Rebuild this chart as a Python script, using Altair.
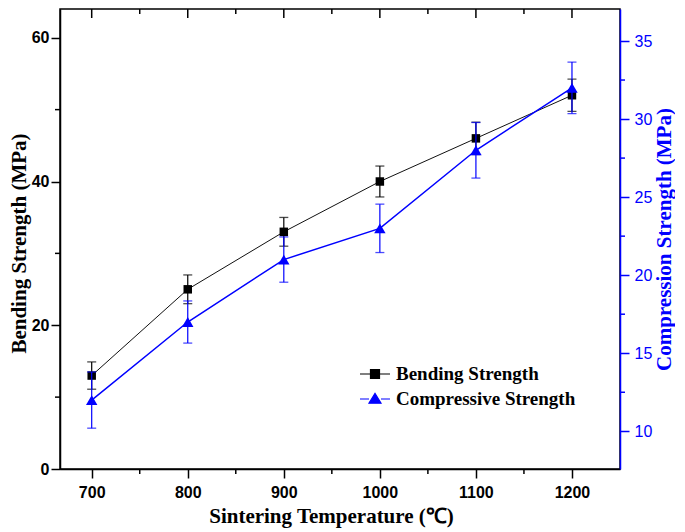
import altair as alt
import pandas as pd

# ---- data ----
temps = [700, 800, 900, 1000, 1100, 1200]
bending = [13.0, 25.0, 33.0, 40.0, 46.0, 52.0]
bending_err = [1.9, 2.0, 2.0, 2.15, 2.25, 2.25]
compressive = [12.0, 17.0, 21.0, 23.0, 28.0, 32.0]
compressive_err = [1.8, 1.35, 1.45, 1.55, 1.78, 1.65]

series_names = ["Bending Strength", "Compressive Strength"]
series_colors = ["#000000", "#0000ff"]

x_major = [700, 800, 900, 1000, 1100, 1200]
x_minor = [750, 850, 950, 1050, 1150]
left_major = [0, 20, 40, 60]
left_minor = [10, 30, 50]
right_major = [10, 15, 20, 25, 30, 35]
right_minor = [12.5, 17.5, 22.5, 27.5, 32.5]

W, H = 560, 460
x_domain = [667, 1250]
left_domain = [0, 64]
right_domain = [7.585, 37.05]

BLUE = "#0000ff"
SERIF = "Liberation Serif"
SANS = "Liberation Sans"

bend_df = pd.DataFrame({
    "temp": temps, "val": bending,
    "lo": [v - e for v, e in zip(bending, bending_err)],
    "hi": [v + e for v, e in zip(bending, bending_err)],
})
comp_df = pd.DataFrame({
    "temp": temps, "val": compressive,
    "lo": [v - e for v, e in zip(compressive, compressive_err)],
    "hi": [v + e for v, e in zip(compressive, compressive_err)],
})
xmaj_df = pd.DataFrame({"temp": x_major})
xmin_df = pd.DataFrame({"temp": x_minor})
lmin_df = pd.DataFrame({"val": left_minor})
rmin_df = pd.DataFrame({"val": right_minor})
leg_df = pd.DataFrame({"series": series_names})

x_scale = alt.Scale(domain=x_domain, nice=False, zero=False)
left_scale = alt.Scale(domain=left_domain, nice=False, zero=False)
right_scale = alt.Scale(domain=right_domain, nice=False, zero=False)

x_axis = alt.Axis(
    values=x_major, format="d", title="Sintering Temperature (℃)",
    titleFont=SERIF, titleFontWeight="bold", titleFontSize=21, titleColor="black",
    labelFont=SANS, labelFontWeight="bold", labelFontSize=16, labelColor="black",
    tickSize=9, tickWidth=1.5, tickColor="black", domainWidth=1.5, domainColor="black",
    labelPadding=6, titlePadding=5, grid=False, titleX=271,
)
left_axis = alt.Axis(
    values=left_major, title="Bending Strength (MPa)",
    titleFont=SERIF, titleFontWeight="bold", titleFontSize=21, titleColor="black",
    labelFont=SANS, labelFontWeight="bold", labelFontSize=16, labelColor="black",
    tickSize=9, tickWidth=1.5, tickColor="black", domainWidth=1.5, domainColor="black",
    labelPadding=2, titlePadding=2, grid=False, titleY=234,
)
right_axis = alt.Axis(
    orient="right", values=right_major, title="Compression Strength (MPa)",
    titleFont=SERIF, titleFontWeight="bold", titleFontSize=21, titleColor=BLUE,
    titleAngle=270, titleBaseline="top",
    labelFont=SANS, labelFontWeight="normal", labelFontSize=16, labelColor=BLUE,
    tickSize=9, tickWidth=1.5, tickColor=BLUE, domainWidth=1.5, domainColor=BLUE,
    labelPadding=5, titlePadding=2, grid=False, titleY=230,
)

X = alt.X("temp:Q", scale=x_scale, axis=x_axis)
YL = lambda f: alt.Y(f"{f}:Q", scale=left_scale, axis=left_axis)
YR = lambda f: alt.Y(f"{f}:Q", scale=right_scale, axis=right_axis)

# ---- left (bending) group ----
line_b = alt.Chart(bend_df).mark_line(color="#111111", strokeWidth=1).encode(x=X, y=YL("val"))
err_b = alt.Chart(bend_df).mark_rule(color="black", strokeWidth=1.2).encode(x=X, y=YL("lo"), y2="hi:Q")
caplo_b = alt.Chart(bend_df).mark_tick(orient="horizontal", size=9, thickness=1.3, color="black").encode(
    x=X, y=YL("lo"))
caphi_b = alt.Chart(bend_df).mark_tick(orient="horizontal", size=9, thickness=1.3, color="black").encode(
    x=X, y=YL("hi"))
pts_b = alt.Chart(bend_df).mark_point(shape="square", filled=True, size=72, color="black", opacity=1).encode(
    x=X, y=YL("val"))
lminor = alt.Chart(lmin_df).mark_rule(color="black", strokeWidth=1.5).encode(
    y=YL("val"), x=alt.value(0), x2=alt.value(-5))
bminor = alt.Chart(xmin_df).mark_rule(color="black", strokeWidth=1.5).encode(
    x=X, y=alt.value(H), y2=alt.value(H + 5))
tmajor = alt.Chart(xmaj_df).mark_rule(color="black", strokeWidth=1.5).encode(
    x=X, y=alt.value(0), y2=alt.value(9))
tminor = alt.Chart(xmin_df).mark_rule(color="black", strokeWidth=1.5).encode(
    x=X, y=alt.value(0), y2=alt.value(5))

left_group = alt.layer(line_b, err_b, caplo_b, caphi_b, pts_b, lminor, bminor, tmajor, tminor)

# ---- right (compressive) group ----
line_c = alt.Chart(comp_df).mark_line(color=BLUE, strokeWidth=1.5).encode(x=X, y=YR("val"))
err_c = alt.Chart(comp_df).mark_rule(color=BLUE, strokeWidth=1.2).encode(x=X, y=YR("lo"), y2="hi:Q")
caplo_c = alt.Chart(comp_df).mark_tick(orient="horizontal", size=9, thickness=1.3, color=BLUE).encode(
    x=X, y=YR("lo"))
caphi_c = alt.Chart(comp_df).mark_tick(orient="horizontal", size=9, thickness=1.3, color=BLUE).encode(
    x=X, y=YR("hi"))
pts_c = alt.Chart(comp_df).mark_point(shape="triangle-up", filled=True, size=130, color=BLUE, opacity=1).encode(
    x=X, y=YR("val"))
rminor = alt.Chart(rmin_df).mark_rule(color=BLUE, strokeWidth=1.5).encode(
    y=YR("val"), x=alt.value(W), x2=alt.value(W + 5))

bend_path = "M-2,0H-0.6M0.6,0H2M-0.6,-0.6H0.6V0.6H-0.6Z"
comp_path = "M-2,0H-0.8M0.8,0H2M-0.8,0.55H0.8L0,-0.75Z"

leg = alt.Legend(
    orient="none", legendX=305.5, legendY=355.5, title=None,
    labelFont=SERIF, labelFontWeight="bold", labelFontSize=19, labelColor="black",
    labelLimit=400,
    symbolSize=225, symbolStrokeWidth=1.2, rowPadding=5, labelOffset=11.5, padding=0,
)
legend_layer = alt.Chart(leg_df).mark_point(filled=True, opacity=1).encode(
    fill=alt.Fill("series:N", scale=alt.Scale(domain=series_names, range=series_colors), legend=leg),
    stroke=alt.Stroke("series:N", scale=alt.Scale(domain=series_names, range=series_colors), legend=leg),
    shape=alt.Shape("series:N", scale=alt.Scale(domain=series_names, range=[bend_path, comp_path]), legend=leg),
).transform_filter("false")

right_group = alt.layer(line_c, err_c, caplo_c, caphi_c, pts_c, rminor, legend_layer)

chart = alt.layer(left_group, right_group).resolve_scale(y="independent").properties(
    width=W, height=H,
    background="white",
    padding={"left": 0, "top": 0, "right": 0, "bottom": 3},
).configure_view(stroke="black", strokeWidth=1.5)

chart.save("out.html", embed_options={"renderer": "svg", "actions": False})
